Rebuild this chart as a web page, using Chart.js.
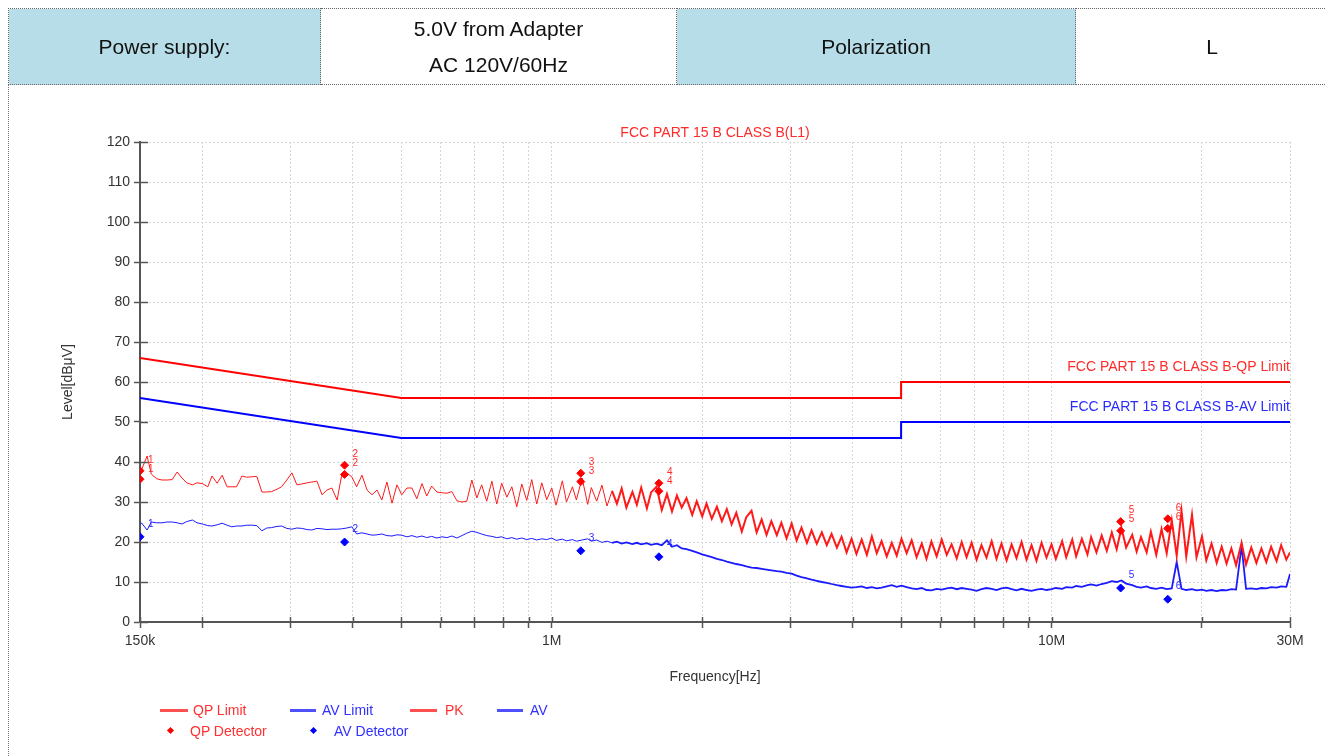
<!DOCTYPE html>
<html>
<head>
<meta charset="utf-8">
<script src="https://cdn.jsdelivr.net/npm/chart.js@4.4.1/dist/chart.umd.min.js"></script>
<style>
    html, body { margin: 0; padding: 0; background: #fff; }
    body { width: 1326px; height: 756px; position: relative; overflow: hidden; font-family: "Liberation Sans", Arial, sans-serif; }
    #frame { position: absolute; left: 8px; top: 84px; width: 1330px; height: 690px; border-left: 1px dotted #777; }
    table.info { position: absolute; left: 8px; top: 8px; border-collapse: collapse; table-layout: fixed; width: 1340px; z-index: 2; }
    table.info td { height: 75px; border: 1px dotted #666; text-align: center; vertical-align: middle; font-size: 21px; color: #111; padding: 0; }
    table.info td.hd { background: #b7dee8; }
    table.info td.two { line-height: 36px; }
    #chart { position: absolute; left: 0; top: 0; }
    .lg-line { position: absolute; height: 3px; }
    .lg-dot { position: absolute; width: 5px; height: 5px; transform: rotate(45deg); }
    .lg-text { position: absolute; font-size: 14px; line-height: 16px; white-space: nowrap; }
</style>
</head>
<body>
<div id="frame"></div>
<table class="info">
    <colgroup><col style="width:312px"><col style="width:356px"><col style="width:399px"><col style="width:273px"></colgroup>
    <tr>
        <td class="hd">Power supply:</td>
        <td class="two">5.0V from Adapter<br>AC 120V/60Hz</td>
        <td class="hd">Polarization</td>
        <td>L</td>
    </tr>
</table>
<canvas id="chart" width="1326" height="756"></canvas>

<div class="lg-line" style="left:160px;top:709px;width:28px;background:#ff5050"></div>
<div class="lg-text" style="left:193px;top:702px;color:#ff3030">QP Limit</div>
<div class="lg-line" style="left:290px;top:709px;width:26px;background:#5050ff"></div>
<div class="lg-text" style="left:322px;top:702px;color:#3030ff">AV Limit</div>
<div class="lg-line" style="left:410px;top:709px;width:27px;background:#ff5050"></div>
<div class="lg-text" style="left:445px;top:702px;color:#ff3030">PK</div>
<div class="lg-line" style="left:497px;top:709px;width:26px;background:#5050ff"></div>
<div class="lg-text" style="left:530px;top:702px;color:#3030ff">AV</div>
<div class="lg-dot" style="left:168px;top:728px;background:#ff0000"></div>
<div class="lg-text" style="left:190px;top:723px;color:#ff3030">QP Detector</div>
<div class="lg-dot" style="left:311px;top:728px;background:#0000ff"></div>
<div class="lg-text" style="left:334px;top:723px;color:#3030ff">AV Detector</div>

<script>
// frequencies in MHz, level in dBuV
const freqLow = [
    0.150, 0.151, 0.155, 0.158, 0.162, 0.166, 0.170, 0.174, 0.178, 0.182,
    0.186, 0.191, 0.195, 0.200, 0.205, 0.209, 0.214, 0.219, 0.224, 0.229,
    0.234, 0.240, 0.245, 0.251, 0.257, 0.263, 0.269, 0.275, 0.282, 0.288,
    0.295, 0.302, 0.309, 0.316, 0.324, 0.331, 0.339, 0.347, 0.355, 0.363,
    0.372, 0.380, 0.389, 0.398, 0.407, 0.417, 0.427, 0.437, 0.447, 0.457,
    0.468, 0.479, 0.490, 0.501, 0.513, 0.525, 0.537, 0.550, 0.562, 0.575,
    0.589, 0.603, 0.617, 0.631, 0.646, 0.661, 0.676, 0.692, 0.708, 0.724,
    0.741, 0.759, 0.776, 0.794, 0.813, 0.832, 0.851, 0.871, 0.891, 0.912,
    0.933, 0.955, 0.977
];
const pkLow = [
    37, 38, 41.5, 37, 35.8, 35.5, 35.5, 35.6, 37.5, 36,
    34.8, 34.3, 34.8, 34.6, 33.8, 36.5, 34.7, 36.7, 33.8, 33.8,
    33.8, 36.5, 36.2, 36.3, 36.4, 32.5, 32.5, 32.6, 33.2, 33.8,
    35.5, 37.3, 34.3, 34.5, 34.8, 35, 35.2, 31.8, 33, 33.5,
    30.5, 36.8, 37.2, 36.3, 33.8, 36.7, 33, 31.8, 33, 30.5,
    35, 29.7, 34.3, 31.8, 33.5, 33.5, 30.8, 34.6, 31.5, 34,
    32.5, 32.3, 32.2, 32.6, 30.3, 30, 30.2, 35.5, 31, 34.3,
    30.2, 35.2, 29.5, 34.7, 31.2, 33.8, 28.8, 34.5, 30.4, 35.6,
    29.5, 34.8, 30.6
];
const avLow = [
    24.4, 24.8, 23, 25, 24.8, 24.8, 25, 25, 24.8, 24.5,
    25.1, 25.5, 24.8, 24.5, 24.1, 24, 24.3, 24.7, 24.2, 23.8,
    24, 24, 24.2, 24.2, 24.1, 22.8, 23.5, 23.6, 23.9, 24,
    23.4, 23.2, 23.5, 23.4, 23.1, 23, 23.4, 23.3, 23.1, 23.2,
    23.2, 23.3, 23.5, 23.8, 22, 22.3, 22, 21.7, 21.8, 22,
    21.6, 21.5, 21.8, 21.7, 21.3, 21.6, 21.2, 21.5, 21.1, 21.4,
    21, 21.3, 21.1, 21.5, 21, 21.6, 22.2, 22.7, 22.4, 22,
    21.6, 21.4, 21.1, 21.3, 20.8, 21.1, 20.7, 21, 20.6, 20.9,
    20.5, 20.8, 20.6
];

const freqMid = [
    1.00, 1.02, 1.05, 1.07, 1.10, 1.12, 1.15, 1.18, 1.20, 1.23,
    1.26, 1.29, 1.32, 1.35, 1.38, 1.41, 1.45, 1.48, 1.51, 1.55,
    1.58, 1.62, 1.66, 1.70, 1.74, 1.78, 1.82, 1.86, 1.91, 1.95,
    2.00, 2.04, 2.09, 2.14, 2.19, 2.24, 2.29, 2.34, 2.40, 2.45,
    2.51, 2.57, 2.63, 2.69, 2.75, 2.82, 2.88, 2.95, 3.02, 3.09,
    3.16, 3.24, 3.31, 3.39, 3.47, 3.55, 3.63, 3.72, 3.80, 3.89,
    3.98, 4.07, 4.17, 4.27, 4.37, 4.47, 4.57, 4.68, 4.79, 4.90,
    5.01, 5.13, 5.25, 5.37, 5.50, 5.62, 5.75, 5.89, 6.03, 6.17,
    6.31, 6.46, 6.61, 6.76, 6.92, 7.08, 7.24, 7.41, 7.59, 7.76,
    7.94, 8.13, 8.32, 8.51, 8.71, 8.91, 9.12, 9.33, 9.55, 9.77
];
const pkMid = [
    33.5, 29.2, 35.3, 30, 33.8, 30.5, 36, 29.4, 33.6, 30.2,
    34.2, 29, 32.8, 29.6, 33.4, 28.6, 32.5, 29.3, 33.6, 28.4,
    32.4, 33.8, 28, 32, 27.6, 31.6, 28.6, 31, 26.8, 30.2,
    26.4, 29.6, 25.8, 28.8, 25.2, 28.2, 24.4, 27.3, 22.6, 26.2,
    27.8, 22.4, 25.6, 21.8, 25.2, 21.7, 24.8, 20.9, 24.6, 20.4,
    23.6, 19.8, 22.9, 19.6, 22.4, 19.2, 22, 18.6, 21.3, 17.4,
    20.8, 17, 20.6, 16.8, 21.4, 17.2, 20.2, 16.4, 19.8, 16.6,
    20.8, 17.2, 20.4, 16.2, 19.6, 15.8, 20.1, 16.4, 20.6, 16.8,
    19.4, 15.9, 20, 16.2, 19.8, 15.6, 19.2, 16.1, 20.2, 15.8,
    19.6, 15.4, 19.4, 16, 20, 15.6, 19.2, 15.3, 19.8, 16.1
];
const avMid = [
    21, 20.4, 20.7, 20.3, 20.6, 20.2, 20.5, 20.8, 20.2, 20.5,
    19.9, 20.2, 19.8, 20.1, 19.6, 19.9, 19.5, 19.8, 19.4, 19.7,
    19.3, 19.6, 19.2, 20.4, 18.8, 19.2, 18.4, 18.2, 17.8, 17.4,
    16.9, 16.6, 16.2, 15.8, 15.5, 15.1, 14.8, 14.5, 14.2, 13.9,
    13.6, 13.5, 13.3, 13.1, 12.9, 12.7, 12.6, 12.3, 12.1, 11.6,
    11.2, 10.9, 10.6, 10.3, 10, 9.8, 9.5, 9.2, 9, 8.8,
    8.6, 8.7, 8.9, 8.5, 8.7, 8.4, 8.6, 8.9, 9.2, 8.8,
    9.1, 8.7, 8.4, 8.2, 8.5, 8, 7.9, 8.3, 8.1, 8.4,
    8.6, 8.2, 8.5, 8.3, 8.1, 7.8, 8.2, 8.5, 8.3, 8,
    8.4, 8.6, 8.2, 7.9, 8.3, 8, 7.8, 8.1, 8.3, 8
];

const freqHigh = [
    10.0, 10.2, 10.5, 10.7, 11.0, 11.2, 11.5, 11.8, 12.0, 12.3,
    12.6, 12.9, 13.2, 13.5, 13.8, 14.1, 14.5, 14.8, 15.1, 15.5,
    15.8, 16.2, 16.6, 17.0, 17.4, 17.8, 18.2, 18.6, 19.1, 19.5,
    20.0, 20.4, 20.9, 21.4, 21.9, 22.4, 22.9, 23.4, 24.0, 24.5,
    25.1, 25.7, 26.3, 26.9, 27.5, 28.2, 28.8, 29.5, 30.0
];
const pkHigh = [
    19.4, 15.8, 20.2, 16.2, 20.6, 16.4, 20.8, 16.9, 21.2, 17.4,
    21.6, 17.8, 22.4, 18.2, 23.5, 18.6, 21.8, 17.6, 21.2, 17.4,
    22.6, 16.8, 23.2, 17.2, 25.4, 16.6, 27.8, 16.4, 26.8, 16.2,
    21.4, 15.4, 19.6, 14.8, 18.8, 14.6, 18.4, 14.2, 19.8, 14.4,
    18.6, 14.8, 18.4, 15, 18.8, 15.2, 19.2, 15.6, 17.4
];
const avHigh = [
    8.2, 8.5, 8.3, 8.7, 8.6, 9, 8.8, 9.2, 9.4, 9.1,
    9.5, 9.8, 10.2, 10, 10.4, 9.6, 9.2, 8.8, 8.6, 8.9,
    8.5, 8.3, 8.6, 8.2, 8.4, 15, 8.3, 8, 8.2, 7.9,
    8.1, 7.8, 8, 7.7, 8, 7.9, 8.2, 8.1, 19, 8.3,
    8.4, 8.2, 8.5, 8.4, 8.7, 8.6, 8.9, 8.8, 12
];

// limit lines
const limitFreq = [0.15, 0.5, 5, 5, 30];
const qpLimit = [66, 56, 56, 60, 60];
const avLimit = [56, 46, 46, 50, 50];

// final measurement points
const markerNo = ['1', '2', '3', '4', '5', '6'];
const markerFreq = [0.15, 0.385, 1.143, 1.638, 13.75, 17.08];
const qpPeak = [37.8, 39.2, 37.2, 34.7, 25.1, 25.8];
const qpValue = [35.7, 36.9, 35.1, 32.7, 22.8, 23.4];
const avValue = [21.3, 20, 17.8, 16.3, 8.5, 5.7];

const xTickValues = [0.15, 0.2, 0.3, 0.4, 0.5, 0.6, 0.7, 0.8, 0.9, 1, 2, 3, 4, 5, 6, 7, 8, 9, 10, 20, 30];
const xTickLabels = { 0.15: '150k', 1: '1M', 10: '10M', 30: '30M' };

const chartTitle = 'FCC PART 15 B CLASS B(L1)';
const qpLimitName = 'FCC PART 15 B CLASS B-QP Limit';
const avLimitName = 'FCC PART 15 B CLASS B-AV Limit';

const FONT = '"Liberation Sans", Arial, sans-serif';
const RED = '#ff0000';
const BLUE = '#0000ff';

function toPoints(xs, ys) {
    return xs.map((f, i) => ({ x: f, y: ys[i] }));
}

const allFreq = freqLow.concat(freqMid, freqHigh);
const allPk = pkLow.concat(pkMid, pkHigh);
const allAv = avLow.concat(avMid, avHigh);

const overlayPlugin = {
    id: 'overlay',
    afterDraw(chart) {
        const { ctx, chartArea: a } = chart;
        const xs = chart.scales.x;
        const ys = chart.scales.y;
        ctx.save();

        // tick marks crossing into the plot
        ctx.strokeStyle = '#555';
        ctx.lineWidth = 1.5;
        ys.ticks.forEach(t => {
            const py = Math.round(ys.getPixelForValue(t.value)) + 0.5;
            ctx.beginPath();
            ctx.moveTo(a.left, py);
            ctx.lineTo(a.left + 8, py);
            ctx.stroke();
        });
        xs.ticks.forEach(t => {
            const px = Math.round(xs.getPixelForValue(t.value)) + 0.5;
            ctx.beginPath();
            ctx.moveTo(px, a.bottom);
            ctx.lineTo(px, a.bottom - 5);
            ctx.stroke();
        });

        ctx.font = '14px ' + FONT;
        ctx.textBaseline = 'middle';

        // chart title
        ctx.fillStyle = '#ff2a2a';
        ctx.textAlign = 'center';
        ctx.fillText(chartTitle, (a.left + a.right) / 2, 133);

        // limit names
        ctx.textAlign = 'right';
        ctx.fillStyle = '#ff2a2a';
        ctx.fillText(qpLimitName, a.right, ys.getPixelForValue(60) - 15);
        ctx.fillStyle = '#2a2aff';
        ctx.fillText(avLimitName, a.right, ys.getPixelForValue(50) - 15);

        // axis titles
        ctx.fillStyle = '#333';
        ctx.textAlign = 'center';
        ctx.fillText('Frequency[Hz]', (a.left + a.right) / 2, 677);
        ctx.save();
        ctx.translate(68, 382);
        ctx.rotate(-Math.PI / 2);
        ctx.fillText('Level[dB\u03bcV]', 0, 0);
        ctx.restore();

        // marker numbers
        ctx.font = '10px ' + FONT;
        ctx.textAlign = 'left';
        markerFreq.forEach((f, i) => {
            const px = xs.getPixelForValue(f);
            const py = ys.getPixelForValue(qpPeak[i]);
            ctx.fillStyle = '#ff2a2a';
            ctx.fillText(markerNo[i], px + 8, py - 11);
            ctx.fillText(markerNo[i], px + 8, py - 2);
            ctx.fillStyle = '#2a2aff';
            ctx.fillText(markerNo[i], px + 8, ys.getPixelForValue(avValue[i]) - 13);
        });

        ctx.restore();
    }
};

// the sweep above ~1.3 MHz is drawn as a dense band in the original plot
function denseWidth(thin, thick) {
    return c => (c.p0.parsed.x >= 1.3 ? thick : thin);
}

function createChart() {
    const ctx = document.getElementById('chart').getContext('2d');

    new Chart(ctx, {
        type: 'line',
        data: {
            datasets: [
                {
                    label: 'QP Detector',
                    data: toPoints(markerFreq, qpPeak).concat(toPoints(markerFreq, qpValue)),
                    showLine: false,
                    pointStyle: 'rectRot',
                    pointRadius: 4,
                    pointBackgroundColor: RED,
                    pointBorderColor: RED,
                    borderColor: RED
                },
                {
                    label: 'AV Detector',
                    data: toPoints(markerFreq, avValue),
                    showLine: false,
                    pointStyle: 'rectRot',
                    pointRadius: 4,
                    pointBackgroundColor: BLUE,
                    pointBorderColor: BLUE,
                    borderColor: BLUE
                },
                {
                    label: 'PK',
                    data: toPoints(allFreq, allPk),
                    borderColor: '#ff1a1a',
                    borderWidth: 1,
                    segment: { borderWidth: denseWidth(1, 2) },
                    pointRadius: 0,
                    tension: 0
                },
                {
                    label: 'AV',
                    data: toPoints(allFreq, allAv),
                    borderColor: '#1a1aff',
                    borderWidth: 1,
                    segment: { borderWidth: denseWidth(1, 1.8) },
                    pointRadius: 0,
                    tension: 0
                },
                {
                    label: 'QP Limit',
                    data: toPoints(limitFreq, qpLimit),
                    borderColor: RED,
                    borderWidth: 2,
                    pointRadius: 0,
                    tension: 0
                },
                {
                    label: 'AV Limit',
                    data: toPoints(limitFreq, avLimit),
                    borderColor: BLUE,
                    borderWidth: 2,
                    pointRadius: 0,
                    tension: 0
                }
            ]
        },
        options: {
            responsive: false,
            animation: false,
            layout: { padding: { left: 100, right: 36, top: 142, bottom: 104 } },
            plugins: {
                legend: { display: false },
                tooltip: { enabled: false }
            },
            scales: {
                x: {
                    type: 'logarithmic',
                    min: 0.15,
                    max: 30,
                    afterBuildTicks: scale => {
                        scale.ticks = xTickValues.map(v => ({ value: v }));
                    },
                    afterFit: scale => { scale.height = 30; },
                    ticks: {
                        autoSkip: false,
                        maxRotation: 0,
                        padding: 5,
                        color: '#333',
                        font: { family: FONT, size: 14 },
                        callback: value => xTickLabels[value] || ''
                    },
                    grid: { color: '#d6d6d6', lineWidth: 1, tickColor: '#555', tickLength: 6, tickWidth: 1.5, tickBorderDash: [] },
                    border: { color: '#555', width: 2, dash: [2, 2] }
                },
                y: {
                    min: 0,
                    max: 120,
                    afterFit: scale => { scale.width = 40; },
                    ticks: {
                        stepSize: 10,
                        padding: 4,
                        color: '#333',
                        font: { family: FONT, size: 14 }
                    },
                    grid: { color: '#d6d6d6', lineWidth: 1, tickColor: '#555', tickLength: 6, tickWidth: 1.5, tickBorderDash: [] },
                    border: { color: '#555', width: 2, dash: [2, 2] }
                }
            }
        },
        plugins: [overlayPlugin]
    });
}

document.addEventListener('DOMContentLoaded', createChart);
</script>
</body>
</html>
